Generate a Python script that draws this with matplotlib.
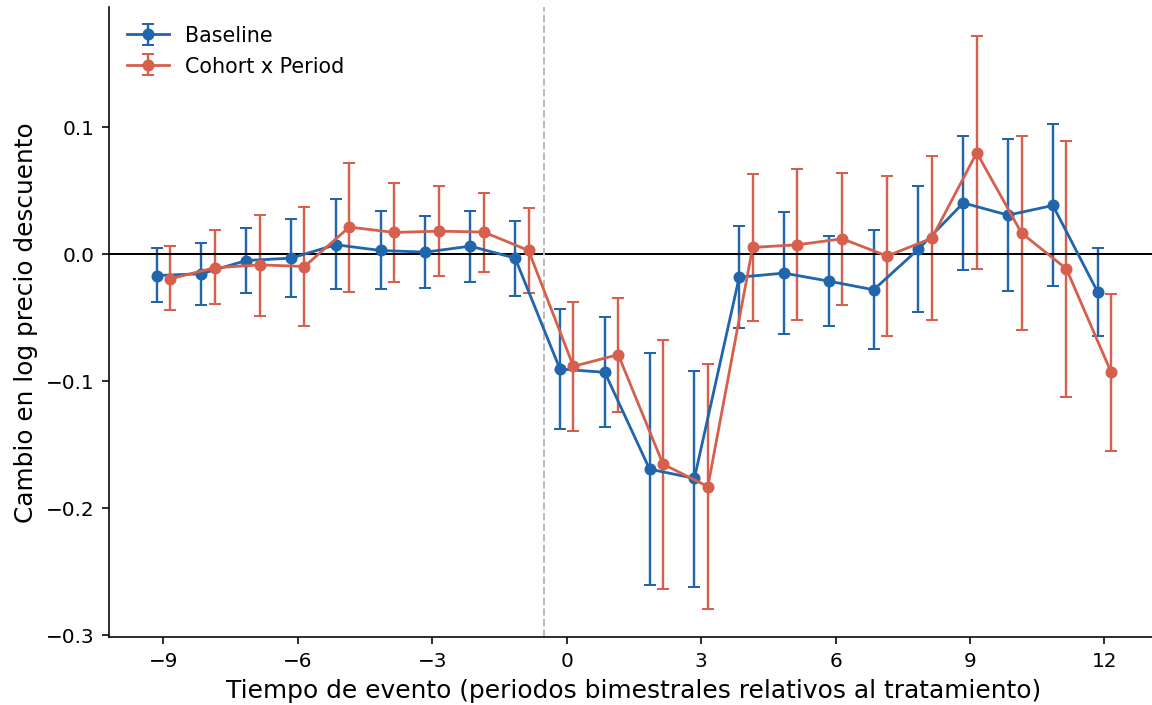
import matplotlib
matplotlib.use("Agg")
import matplotlib.pyplot as plt
import numpy as np

event_time = np.arange(-9, 13)

base_coef = [-0.0171, -0.0157, -0.0053, -0.0034, 0.0071, 0.0026, 0.0013, 0.0060, -0.0034,
             -0.0906, -0.0932, -0.1693, -0.1766, -0.0184, -0.0152, -0.0215, -0.0283,
             0.0037, 0.0400, 0.0304, 0.0380, -0.0302]
base_hi = [0.0045, 0.0087, 0.0200, 0.0270, 0.0428, 0.0336, 0.0300, 0.0336, 0.0257,
           -0.0438, -0.0500, -0.0780, -0.0921, 0.0215, 0.0328, 0.0139, 0.0184,
           0.0533, 0.0929, 0.0903, 0.1024, 0.0045]
base_lo = [-0.0380, -0.0400, -0.0310, -0.0340, -0.0280, -0.0280, -0.0268, -0.0223, -0.0328,
           -0.1378, -0.1360, -0.2606, -0.2620, -0.0583, -0.0633, -0.0570, -0.0750,
           -0.0459, -0.0129, -0.0289, -0.0257, -0.0643]

coh_coef = [-0.0197, -0.0110, -0.0087, -0.0100, 0.0210, 0.0168, 0.0178, 0.0171, 0.0026,
            -0.0885, -0.0793, -0.1654, -0.1830, 0.0050, 0.0071, 0.0118, -0.0018,
            0.0123, 0.0795, 0.0163, -0.0118, -0.0932]
coh_hi = [0.0058, 0.0186, 0.0304, 0.0365, 0.0717, 0.0559, 0.0530, 0.0478, 0.0362,
          -0.0378, -0.0344, -0.0677, -0.0866, 0.0625, 0.0664, 0.0638, 0.0612,
          0.0766, 0.1714, 0.0924, 0.0890, -0.0318]
coh_lo = [-0.0440, -0.0396, -0.0486, -0.0570, -0.0297, -0.0223, -0.0171, -0.0144, -0.0307,
          -0.1394, -0.1244, -0.2632, -0.2790, -0.0525, -0.0520, -0.0404, -0.0648,
          -0.0520, -0.0118, -0.0600, -0.1126, -0.1549]

blue = "#2166ac"
red = "#d6604d"

fig, ax = plt.subplots(figsize=(8, 4.9), dpi=144)
# the original was cropped on the right: axes runs slightly past the edge
fig.subplots_adjust(left=0.0945, right=1.006, top=0.989, bottom=0.096)

series = [
    ("Baseline", base_coef, base_lo, base_hi, -0.15, blue),
    ("Cohort x Period", coh_coef, coh_lo, coh_hi, 0.15, red),
]
for name, coef, lo, hi, off, col in series:
    coef = np.array(coef)
    err = np.vstack([coef - np.array(lo), np.array(hi) - coef])
    ax.errorbar(event_time + off, coef, yerr=err, fmt="-o", color=col,
                ms=5, lw=1.4, elinewidth=1.2, capsize=3, label=name)

ax.axhline(0, color="black", lw=1)
ax.axvline(-0.5, color="#bbbbbb", lw=1, ls="--")

ax.set_xticks([-9, -6, -3, 0, 3, 6, 9, 12])
ax.set_yticks([-0.3, -0.2, -0.1, 0.0, 0.1])
ax.tick_params(labelsize=10)
ax.set_xlabel("Tiempo de evento (periodos bimestrales relativos al tratamiento)", fontsize=12.45)
ax.set_ylabel("Cambio en log precio descuento", fontsize=12.4)
ax.spines["top"].set_visible(False)
ax.spines["right"].set_visible(False)
ax.legend(loc="upper left", frameon=False, fontsize=10.3)

fig.savefig("out.png", dpi=144)
